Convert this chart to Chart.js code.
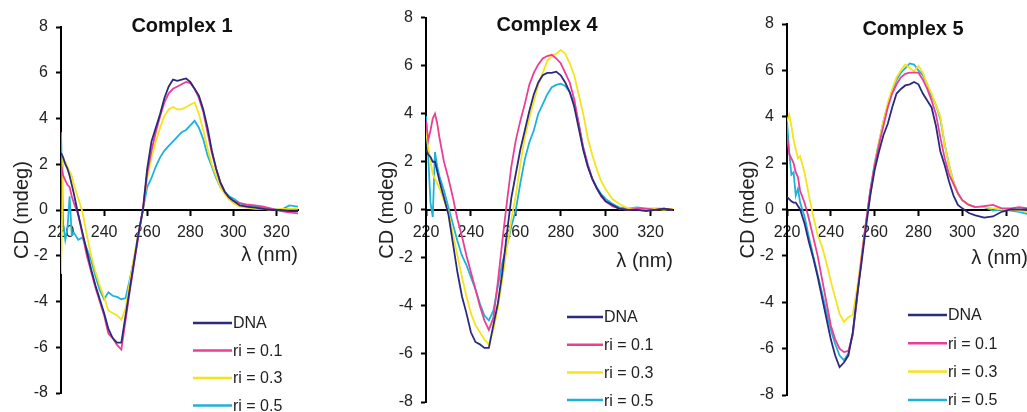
<!DOCTYPE html>
<html>
<head>
<meta charset="utf-8">
<script src="https://cdn.jsdelivr.net/npm/chart.js@4.4.0/dist/chart.umd.min.js"></script>
<style>
  body { margin: 0; background: #fff; }
  #pagina { position: relative; width: 1027px; height: 412px; overflow: hidden; background: #fff; }
  #pagina canvas { position: absolute; top: 0; }
</style>
</head>
<body>
<div id="pagina">
  <canvas id="graficoComplexo1" width="310" height="463" style="left:0px"></canvas>
  <canvas id="graficoComplexo4" width="320" height="472" style="left:365px"></canvas>
  <canvas id="graficoComplexo5" width="314" height="465" style="left:726px"></canvas>
</div>
<script>
const wavelengths = [220, 221, 222, 223, 224, 225, 226,
  228, 230, 232, 234, 236, 238, 240, 242, 244, 246,
  248, 250, 252, 254, 256, 258, 260, 262, 264, 266,
  268, 270, 272, 274, 276, 278, 280, 282, 284, 286,
  288, 290, 292, 294, 296, 298, 300,
  303, 306, 310, 314, 318, 322, 326, 330];

const xTicks = [220, 240, 260, 280, 300, 320];
const yTicks = [-8, -6, -4, -2, 0, 2, 4, 6, 8];

const seriesLabels = ['DNA', 'ri = 0.1', 'ri = 0.3', 'ri = 0.5'];
const seriesColors = ['#2c2a7e', '#ea3f95', '#f3e41c', '#1eb2d9'];

// Complex 1
const complex1Dna = [2.5, 2.3, 2.0, 1.8, 1.5, 1.1, 0.7,
  -0.2, -1.0, -1.8, -2.6, -3.3, -3.9, -4.5, -5.2, -5.6, -5.8,
  -5.8, -4.6, -3.4, -2.2, -1.0, 0.0, 1.8, 3.0, 3.6, 4.2,
  4.9, 5.4, 5.7, 5.65, 5.7, 5.75, 5.6, 5.3, 5.0, 4.4,
  3.6, 2.6, 1.8, 1.2, 0.8, 0.55, 0.4,
  0.2, 0.15, 0.1, 0.05, 0.0, 0.0, -0.05, -0.05];
const complex1Ri01 = [2.0, 1.5, 1.3, 1.1, 1.0, 0.6, 0.3,
  -0.2, -1.1, -2.0, -2.7, -3.4, -4.0, -4.6, -5.4, -5.6, -5.9,
  -6.1, -4.8, -3.5, -2.3, -1.1, 0.0, 1.6, 2.6, 3.4, 4.1,
  4.7, 5.1, 5.3, 5.4, 5.5, 5.6, 5.55, 5.3, 4.9, 4.3,
  3.4, 2.5, 1.8, 1.2, 0.8, 0.55, 0.4,
  0.3, 0.25, 0.2, 0.15, 0.05, -0.05, -0.1, -0.15];
const complex1Ri03 = [-2.8, 2.2, 2.1, 1.9, 1.7, 1.5, 1.1,
  0.5, -0.1, -1.1, -2.0, -2.7, -3.3, -3.8, -4.4, -4.5, -4.6,
  -4.8, -4.3, -3.1, -2.0, -1.0, 0.0, 1.4, 2.3, 3.0, 3.6,
  4.1, 4.4, 4.5, 4.4, 4.4, 4.5, 4.6, 4.7, 4.2, 3.5,
  2.7, 2.0, 1.5, 1.0, 0.7, 0.45, 0.3,
  0.15, 0.1, 0.05, 0.05, 0.0, 0.05, 0.05, 0.05];
const complex1Ri05 = [3.4, -0.6, -1.3, -0.8, 0.6, -1.1, -1.0,
  -1.3, -1.2, -1.7, -2.2, -2.9, -3.5, -3.9, -3.6, -3.75, -3.8,
  -3.9, -3.85, -3.0, -2.1, -1.0, 0.0, 1.0, 1.4, 1.9, 2.3,
  2.6, 2.8, 3.0, 3.2, 3.4, 3.5, 3.7, 3.9, 3.6, 3.1,
  2.4, 1.9, 1.4, 1.0, 0.8, 0.6, 0.5,
  0.3, 0.2, 0.15, 0.1, 0.05, 0.0, 0.2, 0.15];

// Complex 4
const complex4Dna = [2.5, 2.3, 2.2, 2.0, 2.0, 1.6, 1.2,
  0.5, -0.2, -1.4, -2.6, -3.6, -4.3, -5.1, -5.5, -5.6, -5.75,
  -5.75, -4.8, -3.9, -2.6, -1.0, 0.5, 1.5, 2.5, 3.3, 4.1,
  4.8, 5.3, 5.6, 5.7, 5.7, 5.75, 5.6, 5.3, 4.9, 4.3,
  3.4, 2.5, 1.8, 1.3, 0.9, 0.6, 0.35,
  0.2, 0.05, 0.0, 0.0, -0.05, 0.0, 0.05, 0.0];
const complex4Ri01 = [3.7, 2.9, 3.3, 3.8, 4.0, 3.6, 3.0,
  2.0, 1.3, 0.5, -0.4, -1.1, -1.9, -2.6, -3.3, -4.0, -4.6,
  -5.0, -4.5, -3.0, -1.3, 0.3, 1.8, 2.9, 3.7, 4.4, 5.2,
  5.7, 6.05, 6.3, 6.4, 6.45, 6.3, 6.1, 5.7, 5.3, 4.6,
  3.6, 2.6, 1.9, 1.3, 0.9, 0.55, 0.35,
  0.15, 0.05, 0.0, 0.05, 0.05, 0.0, 0.05, 0.0];
const complex4Ri03 = [3.3, 2.6, 2.0, 1.5, 1.3, 1.1, 0.9,
  0.4, -0.1, -1.0, -1.9, -2.8, -3.6, -4.3, -4.8, -5.1, -5.4,
  -5.6, -5.0, -4.1, -2.9, -1.6, -0.4, 0.6, 1.9, 3.0, 3.8,
  4.5, 5.2, 5.7, 6.2, 6.4, 6.5, 6.65, 6.5, 6.1, 5.6,
  4.8, 4.0, 3.0, 2.3, 1.7, 1.2, 0.85,
  0.45, 0.25, 0.05, 0.05, 0.0, 0.05, 0.0, 0.05];
const complex4Ri05 = [3.9, 2.2, 0.3, -0.3, 2.4, 1.8, 1.4,
  0.8, 0.1, -0.6, -1.3, -1.9, -2.3, -2.8, -3.3, -3.9, -4.4,
  -4.6, -4.2, -3.2, -2.2, -1.5, -0.7, 0.0, 1.1, 2.1, 2.8,
  3.3, 4.0, 4.4, 4.8, 5.1, 5.2, 5.25, 5.15, 4.9, 4.4,
  3.6, 2.6, 1.9, 1.3, 0.95, 0.65, 0.45,
  0.25, 0.1, 0.05, 0.1, 0.05, 0.05, 0.05, 0.0];

// Complex 5
const complex5Dna = [0.55, 0.45, 0.35, 0.3, 0.3, 0.15, 0.0,
  -0.6, -1.4, -2.1, -2.9, -3.8, -4.7, -5.6, -6.3, -6.8, -6.6,
  -6.3, -5.3, -3.7, -2.3, -0.8, 0.6, 1.7, 2.5, 3.2, 3.7,
  4.4, 5.0, 5.2, 5.35, 5.4, 5.5, 5.4, 5.0, 4.7, 4.4,
  3.6, 2.5, 1.9, 1.2, 0.6, 0.2, 0.05,
  -0.15, -0.25, -0.35, -0.3, -0.1, 0.0, 0.0, 0.0];
const complex5Ri01 = [3.2, 2.4, 2.2, 2.0, 1.6, 1.4, 0.8,
  0.3, -0.4, -1.2, -2.0, -3.0, -4.0, -5.0, -5.6, -6.0, -6.15,
  -6.1, -5.4, -3.8, -2.1, -0.6, 0.8, 1.9, 2.8, 3.6, 4.4,
  5.0, 5.4, 5.7, 5.85, 5.9, 5.9, 5.9, 5.6, 5.2, 4.7,
  4.1, 3.1, 2.2, 1.5, 1.1, 0.7, 0.4,
  0.2, 0.1, 0.15, 0.2, 0.05, 0.05, 0.1, 0.05];
const complex5Ri03 = [3.8, 4.1, 3.6, 3.0, 2.6, 2.2, 2.3,
  1.6, 0.6, -0.3, -1.1, -1.6, -2.3, -3.1, -3.8, -4.5, -4.85,
  -4.65, -4.55, -3.4, -2.0, -0.6, 0.6, 1.9, 2.9, 3.8, 4.6,
  5.2, 5.7, 6.0, 6.25, 6.1, 5.95, 6.2, 5.9, 5.4, 5.0,
  4.5, 4.0, 2.8, 1.9, 1.2, 0.7, 0.4,
  0.2, 0.1, 0.1, 0.05, 0.0, 0.0, -0.05, -0.1];
const complex5Ri05 = [3.8, 2.5, 1.5, 1.6, 0.6, 0.9, 0.3,
  -0.3, -1.2, -2.0, -2.8, -3.6, -4.4, -5.2, -5.8, -6.3, -6.5,
  -6.2, -5.4, -3.8, -2.1, -0.6, 0.8, 2.0, 2.9, 3.8, 4.5,
  5.1, 5.6, 5.9, 6.1, 6.3, 6.25, 6.0, 5.8, 5.4, 4.9,
  4.5, 3.9, 2.8, 1.9, 1.2, 0.7, 0.4,
  0.2, 0.1, 0.1, -0.05, 0.0, -0.05, -0.1, -0.2];

const fonte = "'Liberation Sans', Arial, sans-serif";
Chart.defaults.font.family = fonte;
Chart.defaults.color = '#222';

// titulo e legenda desenhados dentro da area do grafico
const decoracaoPainel = {
  id: 'decoracaoPainel',
  afterDraw(chart, args, opts) {
    const ctx = chart.ctx;
    ctx.save();
    ctx.fillStyle = '#111';
    ctx.textBaseline = 'middle';
    ctx.textAlign = 'center';
    ctx.font = 'bold 20px ' + fonte;
    ctx.fillText(opts.titulo, opts.tituloX, opts.tituloY);

    ctx.textAlign = 'left';
    ctx.font = '16px ' + fonte;
    ctx.fillStyle = '#222';
    chart.data.datasets.forEach(function(ds, i) {
      const y = opts.legendaY + i * opts.legendaPasso;
      ctx.strokeStyle = ds.borderColor;
      ctx.lineWidth = 2.5;
      ctx.beginPath();
      ctx.moveTo(opts.legendaX1, y);
      ctx.lineTo(opts.legendaX2, y);
      ctx.stroke();
      ctx.fillText(ds.label, opts.legendaX2 + 1, y + 1);
    });
    ctx.restore();
  }
};

function montarDatasets(series) {
  return series.map(function(valores, i) {
    return {
      label: seriesLabels[i],
      data: wavelengths.map(function(x, j) { return { x: x, y: valores[j] }; }),
      borderColor: seriesColors[i],
      borderWidth: 1.8,
      pointRadius: 0,
      tension: 0,
      fill: false
    };
  });
}

function criarPainel(id, series, geo) {
  const ctx = document.getElementById(id).getContext('2d');
  new Chart(ctx, {
    type: 'line',
    data: { datasets: montarDatasets(series) },
    options: {
      responsive: false,
      animation: false,
      events: [],
      // o eixo x fica no zero e nao ocupa espaco, por isso o padding de baixo
      layout: { padding: { top: geo.topo, right: geo.direita, bottom: 70, left: 0 } },
      plugins: {
        legend: { display: false },
        tooltip: { enabled: false },
        decoracaoPainel: geo.decoracao
      },
      scales: {
        x: {
          type: 'linear',
          min: 220,
          max: 330,
          position: { y: 0 },
          afterFit: function(scale) { scale.height = 70; },
          afterBuildTicks: function(scale) {
            scale.ticks = xTicks.map(function(v) { return { value: v }; });
          },
          border: { display: true, color: '#000', width: 2 },
          grid: { drawOnChartArea: false, drawTicks: true, tickLength: 5, tickColor: '#000', tickWidth: 2 },
          ticks: { padding: 8, maxRotation: 0, autoSkip: false, color: '#222', font: { size: 16 } },
          title: {
            display: true,
            text: 'λ (nm)',
            align: 'end',
            color: '#222',
            font: { size: 20 },
            padding: { top: 0, bottom: geo.tituloXPad }
          }
        },
        y: {
          type: 'linear',
          min: -8,
          max: 8,
          position: 'left',
          afterFit: function(scale) { scale.width = 61; },
          afterBuildTicks: function(scale) {
            scale.ticks = yTicks.map(function(v) { return { value: v }; });
          },
          border: { display: true, color: '#000', width: 2 },
          grid: { drawOnChartArea: false, drawTicks: true, tickLength: 5, tickColor: '#000', tickWidth: 2 },
          ticks: { padding: 8, color: '#222', font: { size: 16 } },
          title: {
            display: true,
            text: 'CD (mdeg)',
            color: '#222',
            font: { size: 20 },
            padding: { top: 10, bottom: 0 }
          }
        }
      }
    },
    plugins: [decoracaoPainel]
  });
}

document.addEventListener('DOMContentLoaded', function() {
  criarPainel('graficoComplexo1', [complex1Dna, complex1Ri01, complex1Ri03, complex1Ri05], {
    topo: 27, direita: 12, tituloXPad: 13,
    decoracao: { titulo: 'Complex 1', tituloX: 182, tituloY: 26,
      legendaX1: 193, legendaX2: 232, legendaY: 323, legendaPasso: 27.5 }
  });
  criarPainel('graficoComplexo4', [complex4Dna, complex4Ri01, complex4Ri03, complex4Ri05], {
    topo: 16, direita: 12, tituloXPad: 6,
    decoracao: { titulo: 'Complex 4', tituloX: 182, tituloY: 25,
      legendaX1: 202, legendaX2: 238, legendaY: 317, legendaPasso: 27.7 }
  });
  criarPainel('graficoComplexo5', [complex5Dna, complex5Ri01, complex5Ri03, complex5Ri05], {
    topo: 24, direita: 12, tituloXPad: 9,
    decoracao: { titulo: 'Complex 5', tituloX: 187, tituloY: 29,
      legendaX1: 182, legendaX2: 221, legendaY: 315, legendaPasso: 28.3 }
  });
});
</script>
</body>
</html>
